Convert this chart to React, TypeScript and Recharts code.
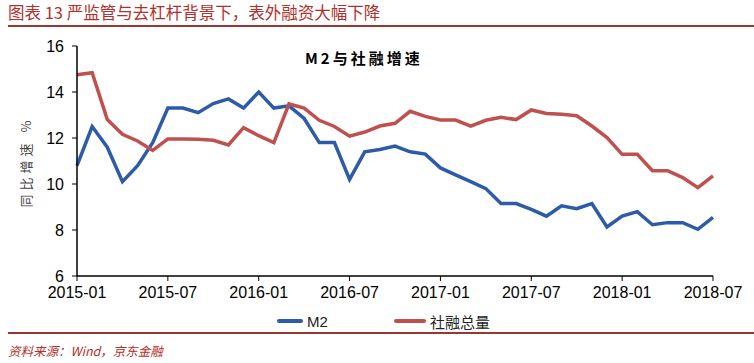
import { LineChart, Line, XAxis, YAxis } from 'recharts';

// month labels, 2015-01 .. 2018-07
const months = [
  '2015-01', '2015-02', '2015-03', '2015-04', '2015-05', '2015-06',
  '2015-07', '2015-08', '2015-09', '2015-10', '2015-11', '2015-12',
  '2016-01', '2016-02', '2016-03', '2016-04', '2016-05', '2016-06',
  '2016-07', '2016-08', '2016-09', '2016-10', '2016-11', '2016-12',
  '2017-01', '2017-02', '2017-03', '2017-04', '2017-05', '2017-06',
  '2017-07', '2017-08', '2017-09', '2017-10', '2017-11', '2017-12',
  '2018-01', '2018-02', '2018-03', '2018-04', '2018-05', '2018-06',
  '2018-07',
];

const m2 = [
  10.8, 12.5, 11.6, 10.1, 10.8, 11.8, 13.3, 13.3, 13.1, 13.5, 13.7, 13.3,
  14.0, 13.3, 13.4, 12.85, 11.8, 11.8, 10.2, 11.4, 11.5, 11.65, 11.4, 11.3,
  10.7, 10.4, 10.1, 9.8, 9.15, 9.15, 8.9, 8.6, 9.05, 8.93, 9.15, 8.13,
  8.6, 8.8, 8.23, 8.32, 8.32, 8.03, 8.55,
];

const socialFinancing = [
  14.75, 14.84, 12.8, 12.16, 11.87, 11.46, 11.96, 11.96, 11.95, 11.9, 11.7, 12.45,
  12.1, 11.8, 13.48, 13.3, 12.77, 12.5, 12.08, 12.26, 12.52, 12.64, 13.16, 12.94,
  12.78, 12.78, 12.52, 12.77, 12.9, 12.8, 13.22, 13.07, 13.03, 12.97, 12.52, 12.02,
  11.29, 11.29, 10.58, 10.58, 10.28, 9.84, 10.35,
];

const yTicks = [6, 8, 10, 12, 14, 16];

const BLUE = '#2E5BA8';
const RED = '#C0504D';
const RULE = '#953A32';
const CJK = '"Noto Sans CJK SC", sans-serif';
const LATIN = '"Liberation Sans", Arial, sans-serif';

const data = months.map((month, i) => ({
  month,
  m2: m2[i],
  sf: socialFinancing[i],
}));

const series = [
  { key: 'm2', name: 'M2', color: BLUE },
  { key: 'sf', name: '社融总量', color: RED },
];

export default function App() {
  return (
    <div
      style={{
        position: 'absolute',
        left: 0,
        top: 0,
        width: 754,
        height: 363,
        background: '#fff',
        overflow: 'hidden',
      }}
    >
      {/* header */}
      <div
        style={{
          position: 'absolute',
          left: 8,
          top: 1,
          fontFamily: CJK,
          fontSize: 16.5,
          lineHeight: '22px',
          color: '#B0302C',
          whiteSpace: 'nowrap',
        }}
      >
        图表 13 严监管与去杠杆背景下，表外融资大幅下降
      </div>
      <div style={{ position: 'absolute', left: 8, right: 0, top: 25, height: 2, background: RULE }} />

      {/* chart title */}
      <div
        style={{
          position: 'absolute',
          left: 305,
          top: 47,
          fontFamily: CJK,
          fontWeight: 700,
          fontSize: 15,
          letterSpacing: 3,
          color: '#000',
        }}
      >
        M2与社融增速
      </div>

      {/* y axis title */}
      <div
        style={{
          position: 'absolute',
          left: 25,
          top: 162,
          transform: 'translate(-50%, -50%) rotate(-90deg)',
          fontFamily: CJK,
          fontSize: 13,
          letterSpacing: 4,
          color: '#444',
          whiteSpace: 'nowrap',
        }}
      >
        同比增速 %
      </div>

      <div style={{ position: 'absolute', left: 0, top: 0 }}>
        <LineChart
          width={754}
          height={363}
          data={data}
          margin={{ top: 46, right: 41, left: 17, bottom: 57 }}
        >
          <XAxis
            dataKey="month"
            interval={5}
            axisLine={{ stroke: '#000', strokeWidth: 1.5 }}
            tickLine={{ stroke: '#000' }}
            tickSize={5}
            tickMargin={6}
            tick={{ fill: '#000', fontSize: 16, fontFamily: LATIN }}
            height={30}
          />
          <YAxis
            domain={[6, 16]}
            ticks={yTicks}
            width={60}
            axisLine={{ stroke: '#000', strokeWidth: 1.5 }}
            tickLine={{ stroke: '#000' }}
            tickSize={5}
            tickMargin={8}
            tick={{ fill: '#000', fontSize: 16, fontFamily: LATIN }}
          />
          {series.map((s) => (
            <Line
              key={s.key}
              type="linear"
              dataKey={s.key}
              name={s.name}
              stroke={s.color}
              strokeWidth={3.5}
              dot={false}
              isAnimationActive={false}
            />
          ))}
        </LineChart>
      </div>

      {/* legend */}
      {series.map((s, i) => (
        <div
          key={s.key}
          style={{
            position: 'absolute',
            left: i === 0 ? 277 : 394,
            top: 311,
            display: 'flex',
            alignItems: 'center',
            height: 20,
          }}
        >
          <span
            style={{
              display: 'inline-block',
              width: i === 0 ? 26 : 32,
              height: 4,
              background: s.color,
              borderRadius: 2,
              marginRight: 4,
            }}
          />
          <span
            style={{
              fontFamily: i === 0 ? LATIN : CJK,
              fontSize: 15,
              color: '#222',
            }}
          >
            {s.name}
          </span>
        </div>
      ))}

      {/* footer */}
      <div style={{ position: 'absolute', left: 8, right: 0, top: 332, height: 2, background: RULE }} />
      <div
        style={{
          position: 'absolute',
          left: 8,
          top: 341,
          fontFamily: CJK,
          fontStyle: 'italic',
          fontSize: 12.5,
          color: '#B0302C',
          whiteSpace: 'nowrap',
        }}
      >
        资料来源：Wind，京东金融
      </div>
    </div>
  );
}
